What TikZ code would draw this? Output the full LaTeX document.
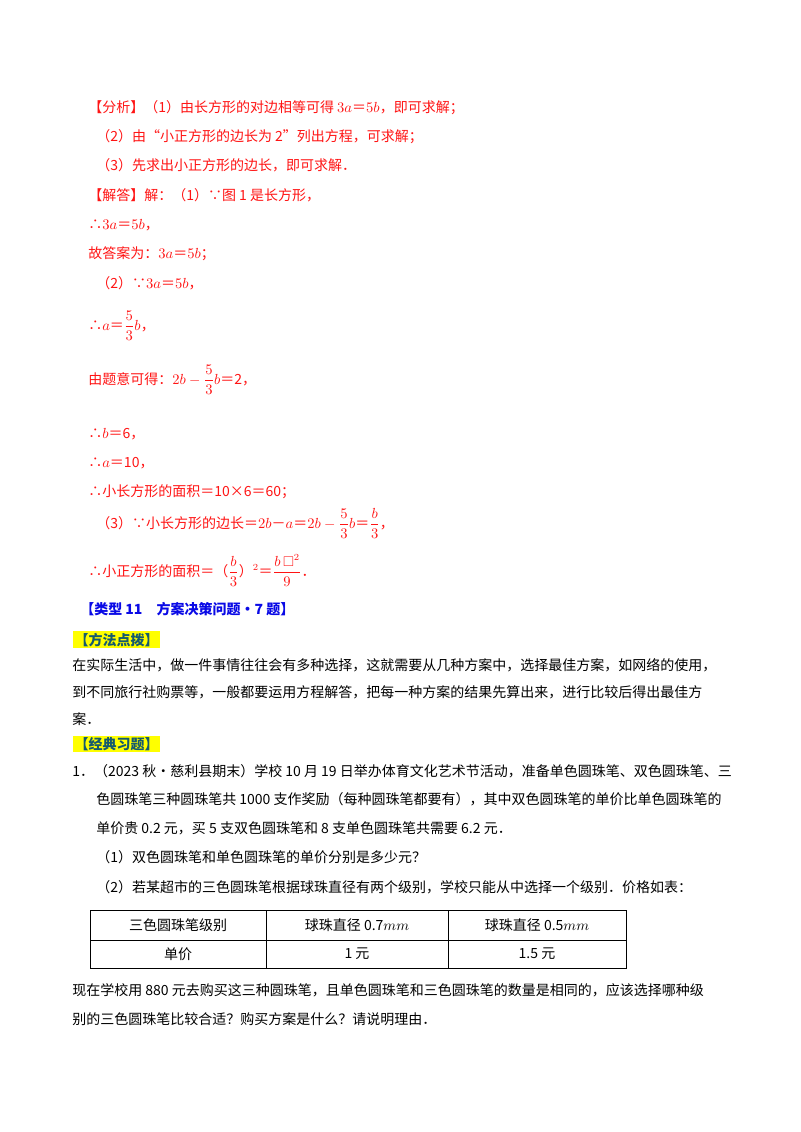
\documentclass[tikz,border=0pt]{standalone}
\usepackage{amsmath,amssymb}
\usepackage{fontspec}
\setmainfont{Noto Sans CJK SC}
\usetikzlibrary{positioning}
\definecolor{ansred}{RGB}{255,20,20}
\definecolor{typeblue}{RGB}{10,10,230}
\definecolor{tipteal}{RGB}{20,90,110}
\definecolor{hiyellow}{RGB}{255,255,0}
\tikzset{
  ln/.style = {anchor=base west, inner sep=0pt, font=\fontsize{10.5}{12}\selectfont},
  ans/.style = {ln, text=ansred},
  head/.style = {ln, text=typeblue, font=\fontsize{10.5}{12}\selectfont\bfseries},
  tip/.style = {ln, text=tipteal, fill=hiyellow, inner sep=1pt, font=\fontsize{10.5}{12}\selectfont\bfseries},
  cell/.style = {anchor=center, inner sep=0pt, font=\fontsize{10.5}{12}\selectfont}
}
\begin{document}
\begin{tikzpicture}[x=0.75pt,y=0.75pt]
\useasboundingbox[fill=white] (0,0) rectangle (800,-1132);

% answer part
\node[ans] (fx) at (88,-112) {【分析】（1）由长方形的对边相等可得 $3a$＝$5b$，即可求解；};
\node[ans] (fx2) at (96,-141) {（2）由“小正方形的边长为 2”列出方程，可求解；};
\node[ans] (fx3) at (96,-170) {（3）先求出小正方形的边长，即可求解．};
\node[ans] (jd) at (88,-200) {【解答】解：（1）∵图 1 是长方形，};
\node[ans] (s1) at (88,-229) {∴$3a$＝$5b$，};
\node[ans] (s2) at (88,-258) {故答案为：$3a$＝$5b$；};
\node[ans] (s3) at (96,-288) {（2）∵$3a$＝$5b$，};
\node[ans] (s4) at (88,-330) {∴$a$＝$\dfrac{5}{3}b$，};
\node[ans] (s5) at (88,-384) {由题意可得：$2b-\dfrac{5}{3}b$＝2，};
\node[ans] (s6) at (88,-438) {∴$b$＝6，};
\node[ans] (s7) at (88,-467) {∴$a$＝10，};
\node[ans] (s8) at (88,-496) {∴小长方形的面积＝10×6＝60；};
\node[ans] (s9) at (96,-528) {（3）∵小长方形的边长＝$2b$－$a$＝$2b-\dfrac{5}{3}b$＝$\dfrac{b}{3}$，};
\node[ans] (s10) at (88,-576) {∴小正方形的面积＝（$\dfrac{b}{3}$）$^2$＝$\dfrac{b\,\square^2}{9}$．};

% type heading
\node[head] (type) at (80,-614) {【类型 11\quad 方案决策问题·7 题】};
\node[tip] (ffdb) at (73,-645) {【方法点拨】};
\node[ln] (p1) at (72,-670) {在实际生活中，做一件事情往往会有多种选择，这就需要从几种方案中，选择最佳方案，如网络的使用，};
\node[ln] (p2) at (72,-697) {到不同旅行社购票等，一般都要运用方程解答，把每一种方案的结果先算出来，进行比较后得出最佳方};
\node[ln] (p3) at (72,-724) {案．};
\node[tip] (jdxt) at (73,-749) {【经典习题】};

% exercise 1
\node[ln] (q1) at (72,-776) {1．（2023 秋•慈利县期末）学校 10 月 19 日举办体育文化艺术节活动，准备单色圆珠笔、双色圆珠笔、三};
\node[ln] (q2) at (96,-804) {色圆珠笔三种圆珠笔共 1000 支作奖励（每种圆珠笔都要有），其中双色圆珠笔的单价比单色圆珠笔的};
\node[ln] (q3) at (96,-833) {单价贵 0.2 元，买 5 支双色圆珠笔和 8 支单色圆珠笔共需要 6.2 元．};
\node[ln] (q4) at (96,-862) {（1）双色圆珠笔和单色圆珠笔的单价分别是多少元？};
\node[ln] (q5) at (96,-892) {（2）若某超市的三色圆珠笔根据球珠直径有两个级别，学校只能从中选择一个级别．价格如表：};

% price table
\draw[line width=0.6pt] (90,-910) rectangle (626,-968);
\draw[line width=0.6pt] (90,-940) -- (626,-940);
\draw[line width=0.6pt] (266,-910) -- (266,-968) (448,-910) -- (448,-968);
\node[cell] (c11) at (178,-925) {三色圆珠笔级别};
\node[cell] (c12) at (357,-925) {球珠直径 0.7$mm$};
\node[cell] (c13) at (537,-925) {球珠直径 0.5$mm$};
\node[cell] (c21) at (178,-954) {单价};
\node[cell] (c22) at (357,-954) {1 元};
\node[cell] (c23) at (537,-954) {1.5 元};

\node[ln] (q6) at (72,-995) {现在学校用 880 元去购买这三种圆珠笔，且单色圆珠笔和三色圆珠笔的数量是相同的，应该选择哪种级};
\node[ln] (q7) at (72,-1024) {别的三色圆珠笔比较合适？购买方案是什么？请说明理由．};
\end{tikzpicture}
\end{document}
